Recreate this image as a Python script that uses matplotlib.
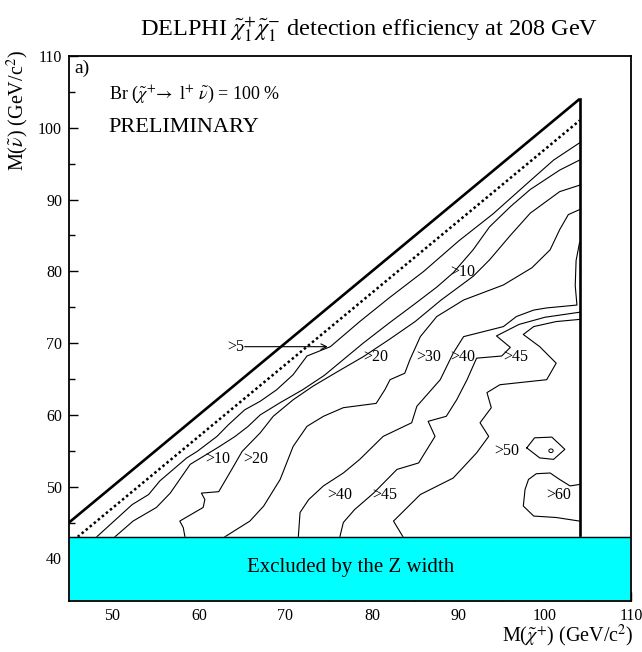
import numpy as np
import matplotlib.pyplot as plt

plt.rcParams['font.family'] = ['Liberation Serif', 'DejaVu Serif']
plt.rcParams['mathtext.fontset'] = 'stix'

# efficiency contours in the (M_chargino, M_sneutrino) plane, one polyline per level
c5_x = [48.2, 52.3, 54.2, 55.5, 58.6, 59.8, 62.1, 63.4, 65.3, 67.1, 69.0, 70.9, 72.5, 75.2, 78.6,
        82.0, 86.0, 90.0, 94.0, 98.0, 101.0, 104.0]
c5_y = [43.0, 47.5, 48.9, 50.8, 54.0, 54.9, 57.0, 58.6, 60.7, 61.9, 63.5, 65.6, 68.2, 69.5, 73.0,
        76.3, 80.0, 84.2, 88.0, 92.3, 95.5, 97.9]

c10_x = [50.3, 52.4, 55.1, 56.7, 59.0, 60.5, 62.4, 64.2, 65.7, 67.1, 69.4, 72.0, 74.5, 76.5, 79.0,
         82.0, 85.0, 87.5, 89.4, 91.7, 93.6, 96.0, 98.3, 101.7, 104.0]
c10_y = [43.0, 45.2, 47.1, 49.1, 53.1, 54.2, 55.6, 57.0, 58.4, 60.0, 61.7, 63.5, 65.5, 67.5, 70.0,
         72.8, 75.5, 77.8, 79.8, 83.0, 86.2, 89.0, 91.4, 94.1, 95.5]

c20_x = [58.4, 58.2, 57.8, 60.5, 60.7, 60.3, 62.3, 64.0, 65.0, 67.1, 68.6, 70.9, 73.2, 76.0, 79.0,
         82.0, 85.0, 88.0, 91.7, 93.6, 96.0, 98.3, 101.7, 104.0]
c20_y = [43.0, 44.3, 45.2, 47.1, 48.2, 49.1, 49.3, 52.8, 54.9, 57.5, 59.8, 62.1, 64.0, 66.0, 68.1,
         70.5, 73.0, 76.0, 79.3, 81.6, 85.0, 88.1, 91.1, 92.0]

c30_x = [63.0, 65.9, 67.5, 69.4, 70.9, 72.5, 74.4, 76.7, 80.5, 81.5, 82.1, 83.8, 84.4, 85.6, 87.5,
         90.6, 95.2, 98.5, 100.6, 101.7, 102.7, 104.0]
c30_y = [43.0, 45.2, 47.3, 51.0, 55.6, 58.4, 59.8, 61.0, 61.6, 63.5, 64.9, 65.8, 67.7, 70.9, 73.7,
         76.0, 78.1, 80.5, 83.0, 85.8, 87.9, 88.6]

c40_x = [71.5, 71.7, 72.7, 74.4, 76.7, 78.6, 81.3, 84.6, 85.2, 87.9, 89.4, 90.6, 95.2, 96.7, 98.7,
         100.2, 103.7, 103.5, 103.6, 104.0]
c40_y = [43.0, 46.4, 48.2, 50.1, 51.9, 53.8, 57.0, 58.9, 61.2, 64.9, 68.6, 70.9, 72.3, 73.7, 74.6,
         74.9, 75.3, 78.0, 81.5, 84.0]

c45_x = [76.3, 76.7, 78.0, 80.2, 82.9, 85.4, 87.3, 86.5, 88.6, 89.8, 91.0, 92.1, 95.0, 96.0, 94.4,
         97.0, 100.0, 104.0]
c45_y = [43.0, 45.0, 46.8, 49.1, 52.4, 53.3, 57.0, 59.1, 59.8, 62.1, 64.9, 67.9, 68.2, 69.4, 71.0,
         72.6, 73.6, 74.3]

c50_x = [83.6, 82.5, 85.6, 89.4, 92.1, 93.5, 92.5, 93.8, 93.3, 94.8, 100.2, 101.3, 99.4, 97.5,
         98.7, 101.3, 104.0]
c50_y = [43.0, 45.2, 48.9, 51.2, 54.7, 57.0, 58.9, 61.0, 63.1, 64.2, 64.9, 67.2, 69.5, 71.2,
         72.3, 73.0, 73.3]

c60_x = [104.0, 102.9, 101.7, 100.6, 99.0, 98.1, 97.7, 97.5, 98.7, 101.3, 104.0]
c60_y = [50.3, 50.1, 51.0, 51.9, 51.8, 51.0, 49.6, 47.3, 45.9, 45.7, 45.2]

loop_x = [97.9, 98.8, 100.8, 102.3, 101.0, 99.4, 97.9]
loop_y = [55.4, 56.8, 56.9, 55.2, 53.8, 54.0, 55.4]

contours = [(c5_x, c5_y), (c10_x, c10_y), (c20_x, c20_y), (c30_x, c30_y), (c40_x, c40_y),
            (c45_x, c45_y), (c50_x, c50_y), (c60_x, c60_y), (loop_x, loop_y)]

# contour labels: text, x, y
labels = [('>10', 60.7, 53.8), ('>20', 65.1, 53.8), ('>10', 89.1, 79.9),
          ('>20', 79.0, 68.1), ('>30', 85.1, 68.1), ('>40', 89.0, 68.1), ('>45', 95.2, 68.1),
          ('>40', 74.9, 48.9), ('>45', 80.0, 48.9), ('>50', 94.1, 54.9), ('>60', 100.1, 48.9)]

m_max = 104.0      # kinematic limit on the chargino mass
z_width = 43.0     # sneutrino masses below this are excluded
dm = 3.0           # mass difference of the dotted line

fig = plt.figure(figsize=(6.42, 6.52), dpi=100)
ax = fig.add_axes([0.1075, 0.0775, 0.8761, 0.8366])
ax.set_xlim(45, 110)
ax.set_ylim(34, 110)

for cx, cy in contours:
    ax.plot(cx, cy, color='black', lw=0.8)
ax.add_patch(plt.Circle((100.7, 55.0), 0.25, fill=False, lw=0.7))

# kinematic boundaries
ax.plot([45, m_max], [45, m_max], color='black', lw=1.9, solid_capstyle='butt')
ax.plot([m_max, m_max], [z_width, m_max], color='black', lw=1.9)
ax.plot([z_width + dm, m_max], [z_width, m_max - dm], color='black', lw=1.8,
        linestyle=(0, (1, 1.1)))

ax.axhspan(34, z_width, color='#00ffff', zorder=3)
ax.axhline(z_width, color='black', lw=1.0, zorder=4)
ax.text(77.5, 38.7, 'Excluded by the Z width', ha='center', va='center', fontsize=15, zorder=5)

for t, lx, ly in labels:
    ax.text(lx, ly, t, ha='left', va='center', fontsize=11.5)
ax.annotate('', xy=(74.9, 69.5), xytext=(65.3, 69.5),
            arrowprops=dict(arrowstyle='->', lw=0.8, color='black', shrinkA=0, shrinkB=0))
ax.text(65.3, 69.5, '>5', ha='right', va='center', fontsize=11.5)

ax.text(45.6, 108.3, 'a)', ha='left', va='center', fontsize=14)
ax.text(49.6, 104.6, r'Br ($\tilde{\chi}^{+}\!\rightarrow$ l$^{+}$ $\tilde{\nu}$) = 100 %',
        ha='left', va='center', fontsize=13)
ax.text(49.6, 100.0, 'PRELIMINARY', ha='left', va='center', fontsize=16)

ax.set_xticks(np.arange(50, 111, 10))
ax.set_yticks(np.arange(40, 111, 10))
ax.set_xticks(np.arange(45, 111, 5), minor=True)
ax.set_yticks(np.arange(35, 111, 5), minor=True)
ax.tick_params(which='both', direction='in', width=1.0, labelsize=11.5, zorder=6)
ax.tick_params(which='major', length=6.5, pad=5)
ax.tick_params(which='minor', length=4.3)
for s in ax.spines.values():
    s.set_linewidth(1.3)
    s.set_zorder(6)

fig.text(0.575, 0.954, r'DELPHI $\tilde{\chi}^{+}_{1}\tilde{\chi}^{-}_{1}$ detection efficiency at 208 GeV',
         ha='center', va='center', fontsize=17.5)
fig.text(0.9875, 0.004, r'M($\tilde{\chi}^{+}$) (GeV/c$^{2}$)', ha='right', va='bottom', fontsize=14.5)
fig.text(0.028, 0.923, r'M($\tilde{\nu}$) (GeV/c$^{2}$)', ha='center', va='top', rotation=90, fontsize=14.5)

fig.savefig('out.png', dpi=100)
